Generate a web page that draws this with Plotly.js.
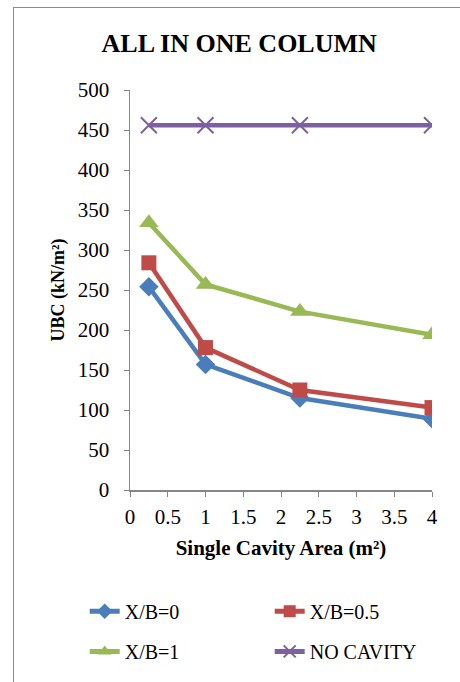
<!DOCTYPE html>
<html><head><meta charset="utf-8">
<script src="https://cdn.plot.ly/plotly-3.0.1.min.js"></script>
<style>
html,body{margin:0;padding:0;background:#fff;}
#wrap{position:relative;width:460px;height:682px;}
#chart{width:460px;height:682px;}
#frame{position:absolute;left:13px;top:7px;right:0;bottom:0;border-top:1.5px solid #8c8c8c;border-left:1.5px solid #8c8c8c;pointer-events:none;}
</style></head>
<body><div id="wrap"><div id="chart"></div><div id="frame"></div></div>
<script>
const xArea = [0.25, 1, 2.25, 4];
const xb0 = [254, 157, 115, 89];
const xb05 = [284, 178, 125, 103];
const xb1 = [334, 257, 223, 194];
const noCavity = [456, 456, 456, 456];
const seriesNames = ['X/B=0', 'X/B=0.5', 'X/B=1', 'NO CAVITY'];

const font = "'Liberation Serif', 'Times New Roman', serif";
const colors = ['#4A7EBB', '#BE4B48', '#98B954', '#7D60A0'];
const symbols = ['diamond', 'square', 'triangle-up', 'x-thin'];
const sizes = [15, 15, 17, 16];
const ys = [xb0, xb05, xb1, noCavity];
const legendRefs = ['legend', 'legend', 'legend2', 'legend2'];

const traces = ys.map((y, i) => ({
  x: xArea, y: y, name: seriesNames[i], type: 'scatter', mode: 'lines+markers',
  legend: legendRefs[i],
  line: {color: colors[i], width: 4.5},
  marker: {symbol: symbols[i], size: sizes[i], color: colors[i],
           line: {color: colors[i], width: i === 3 ? 2 : 0}}
}));

const legendBase = {orientation: 'h', x: -0.15, xanchor: 'left', yanchor: 'middle',
  entrywidth: 140, entrywidthmode: 'pixels', itemsizing: 'constant',
  font: {family: font, size: 20}, bgcolor: 'rgba(0,0,0,0)'};

const layout = {
  width: 460, height: 682,
  margin: {l: 130, r: 28, t: 90, b: 191},
  paper_bgcolor: '#fff', plot_bgcolor: '#fff',
  font: {family: font, size: 20, color: '#000'},
  title: {text: '<b>ALL IN ONE COLUMN</b>', font: {family: font, size: 26, color: '#000'},
          x: 0.52, xanchor: 'center', y: 0.937, yanchor: 'middle'},
  xaxis: {range: [0, 4], dtick: 0.5, tick0: 0, showgrid: false, zeroline: false,
          showline: true, linecolor: '#868686', linewidth: 1.5,
          ticks: 'outside', ticklen: 5, tickcolor: '#868686',
          tickfont: {family: font, size: 21}, ticklabelstandoff: 2,
          title: {text: '<b>Single Cavity Area (m²)</b>', font: {family: font, size: 21}, standoff: 12}},
  yaxis: {range: [0, 500], dtick: 50, showgrid: false, zeroline: false,
          showline: true, linecolor: '#868686', linewidth: 1.5,
          ticks: 'outside', ticklen: 5, tickcolor: '#868686',
          tickfont: {family: font, size: 21}, ticklabelstandoff: 10,
          title: {text: '<b>UBC (kN/m²)</b>', font: {family: font, size: 18}, standoff: 8}},
  showlegend: true,
  legend: Object.assign({}, legendBase, {y: -0.3}),
  legend2: Object.assign({}, legendBase, {y: -0.4})
};

Plotly.newPlot('chart', traces, layout, {displayModeBar: false, staticPlot: true});
</script></body></html>
